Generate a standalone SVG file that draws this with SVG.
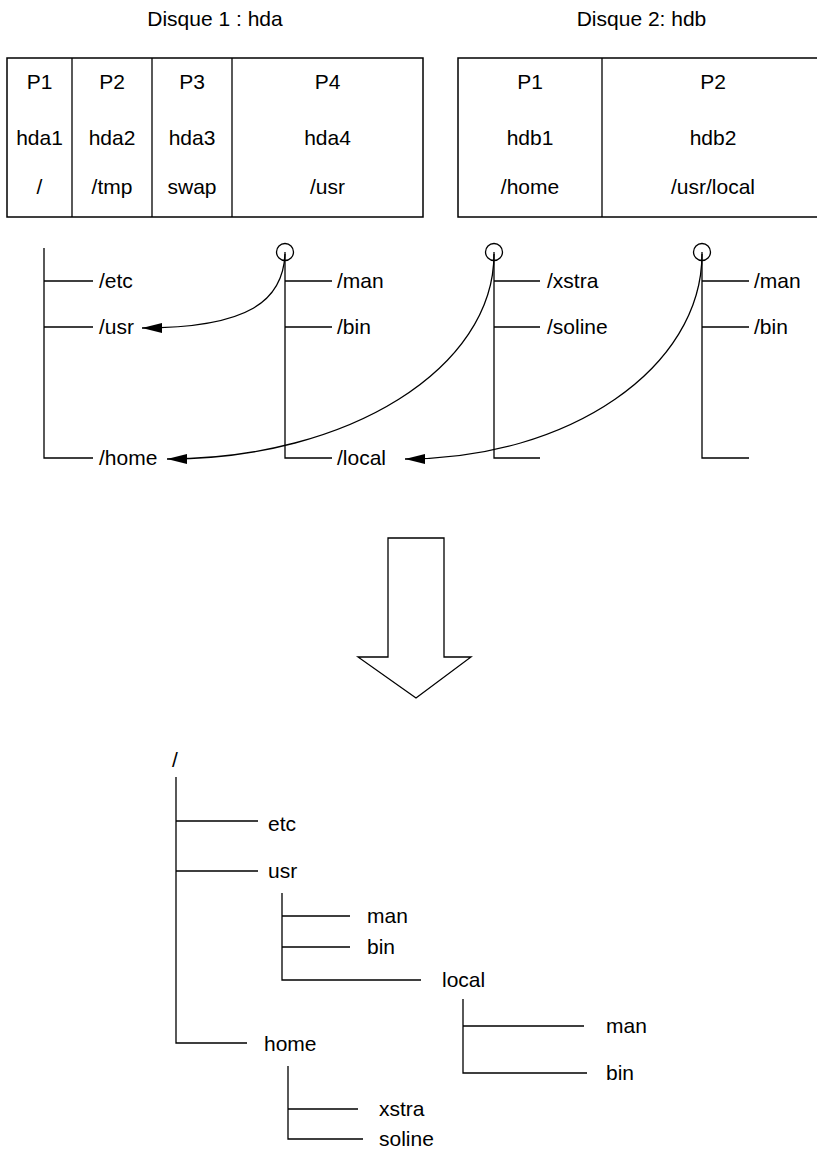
<svg xmlns="http://www.w3.org/2000/svg" width="817" height="1150" viewBox="0 0 817 1150">
<style>
text{font-family:"Liberation Sans",Arial,sans-serif;font-size:21px;fill:#000}
.c{text-anchor:middle}
.ln{stroke:#000;stroke-width:1.3;fill:none}
.box{stroke:#000;stroke-width:1.5;fill:#fff}
</style>
<defs>
<marker id="ah" markerUnits="userSpaceOnUse" markerWidth="20" markerHeight="10" refX="20" refY="5" orient="auto" viewBox="0 0 20 10">
<path d="M0,0 L20,5 L0,10 z" fill="#000"/>
</marker>
</defs>

<g id="disk1">
<text class="c" x="215" y="26">Disque 1 : hda</text>
<rect class="box" x="7" y="58" width="416" height="159"/>
<line class="ln" x1="72" y1="58" x2="72" y2="217"/>
<line class="ln" x1="152" y1="58" x2="152" y2="217"/>
<line class="ln" x1="232" y1="58" x2="232" y2="217"/>
<text class="c" x="39.5" y="89">P1</text>
<text class="c" x="39.5" y="145">hda1</text>
<text class="c" x="39.5" y="194">/</text>
<text class="c" x="112" y="89">P2</text>
<text class="c" x="112" y="145">hda2</text>
<text class="c" x="112" y="194">/tmp</text>
<text class="c" x="192" y="89">P3</text>
<text class="c" x="192" y="145">hda3</text>
<text class="c" x="192" y="194">swap</text>
<text class="c" x="327.5" y="89">P4</text>
<text class="c" x="327.5" y="145">hda4</text>
<text class="c" x="327.5" y="194">/usr</text>
</g>

<g id="disk2">
<text class="c" x="641.5" y="26">Disque 2: hdb</text>
<rect class="box" x="458" y="58" width="366" height="159"/>
<line class="ln" x1="602" y1="58" x2="602" y2="217"/>
<text class="c" x="530" y="89">P1</text>
<text class="c" x="530" y="145">hdb1</text>
<text class="c" x="530" y="194">/home</text>
<text class="c" x="713" y="89">P2</text>
<text class="c" x="713" y="145">hdb2</text>
<text class="c" x="713" y="194">/usr/local</text>
</g>

<g id="tree-hda1">
<path class="ln" d="M44,248 V458 H93 M44,281 H93 M44,327 H93"/>
<text x="99" y="288">/etc</text>
<text x="99" y="334">/usr</text>
<text x="99" y="465">/home</text>
</g>

<g id="tree-hda4">
<circle class="ln" cx="285" cy="252" r="8.5"/>
<path class="ln" d="M285,252 V458 H332 M285,281 H332 M285,327 H332"/>
<text x="337" y="288">/man</text>
<text x="337" y="334">/bin</text>
<text x="337" y="465">/local</text>
</g>

<g id="tree-hdb1">
<circle class="ln" cx="494" cy="252" r="8.5"/>
<path class="ln" d="M494,252 V458 H540 M494,281 H540 M494,327 H540"/>
<text x="547" y="288">/xstra</text>
<text x="547" y="334">/soline</text>
</g>

<g id="tree-hdb2">
<circle class="ln" cx="702" cy="252" r="8.5"/>
<path class="ln" d="M702,252 V458 H749 M702,281 H749 M702,327 H749"/>
<text x="754" y="288">/man</text>
<text x="754" y="334">/bin</text>
</g>

<g id="connectors">
<path class="ln" d="M285,254 C283,300 250,328 142,328" marker-end="url(#ah)"/>
<path class="ln" d="M494,254 C494,368 349,459 167,459" marker-end="url(#ah)"/>
<path class="ln" d="M702,254 C702,368 569,459 405,459" marker-end="url(#ah)"/>
</g>

<g id="big-arrow">
<path class="ln" stroke-width="1.5" fill="#fff" d="M388,538 H444 V657 H471 L416,698 L358,657 H388 Z"/>
</g>

<g id="result-tree">
<text x="172" y="767">/</text>
<path class="ln" d="M176,777 V1043 H247 M176,821 H258 M176,871 H258"/>
<text x="268" y="831">etc</text>
<text x="268" y="878">usr</text>
<text x="264" y="1051">home</text>
<path class="ln" d="M282,893 V980 H421 M282,916 H350 M282,947 H350"/>
<text x="367" y="923">man</text>
<text x="367" y="954">bin</text>
<text x="442" y="987">local</text>
<path class="ln" d="M463,999 V1073 H587 M463,1026 H584"/>
<text x="606" y="1033">man</text>
<text x="606" y="1080">bin</text>
<path class="ln" d="M288,1066 V1139 H363 M288,1109 H358"/>
<text x="379" y="1116">xstra</text>
<text x="379" y="1146">soline</text>
</g>
</svg>
